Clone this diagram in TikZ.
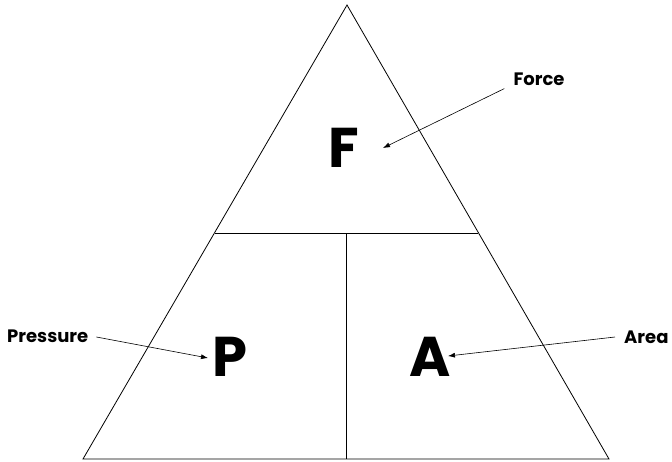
\documentclass[tikz,border=0pt]{standalone}
\usepackage{fontspec}
\setmainfont{Poppins}
\usetikzlibrary{arrows.meta, positioning}
\tikzset{
  letter/.style={font=\fontsize{56}{56}\selectfont\bfseries, inner sep=0pt},
  tag/.style={font=\fontsize{18}{20}\selectfont\bfseries, inner sep=1pt},
  pointer/.style={-{Latex[length=7pt,width=5pt]}, line width=0.6pt}
}
\begin{document}
\begin{tikzpicture}[x=1pt, y=-1pt]
  \useasboundingbox (0,0) rectangle (672,461);
  % triangle
  \coordinate (top) at (347,5);
  \coordinate (bl) at (83,459);
  \coordinate (br) at (609,459);
  \draw[line width=0.8pt] (top) -- (bl) -- (br) -- cycle;
  \coordinate (ml) at (215,233);
  \coordinate (mr) at (478,233);
  \coordinate (mid) at (346,233);
  \coordinate (bot) at (346,459);
  \draw[line width=0.8pt] (ml) -- (mr);
  \draw[line width=0.8pt] (mid) -- (bot);
  % letters
  \node[letter] (F) at (344,148) {F};
  \node[letter] (P) at (230,357) {P};
  \node[letter] (A) at (430,357) {A};
  % labels
  \node[tag] (force) at (539,79) {Force};
  \node[tag, anchor=west] (pressure) at (6,336) {Pressure};
  \node[tag, anchor=west] (area) at (623,337) {Area};
  \draw[pointer] (force.south west) ++(-8,2) -- (383,148);
  \draw[pointer] (pressure.east) ++(7,1) -- (208,358);
  \draw[pointer] (area.west) ++(-8,0) -- (448,356);
\end{tikzpicture}
\end{document}
